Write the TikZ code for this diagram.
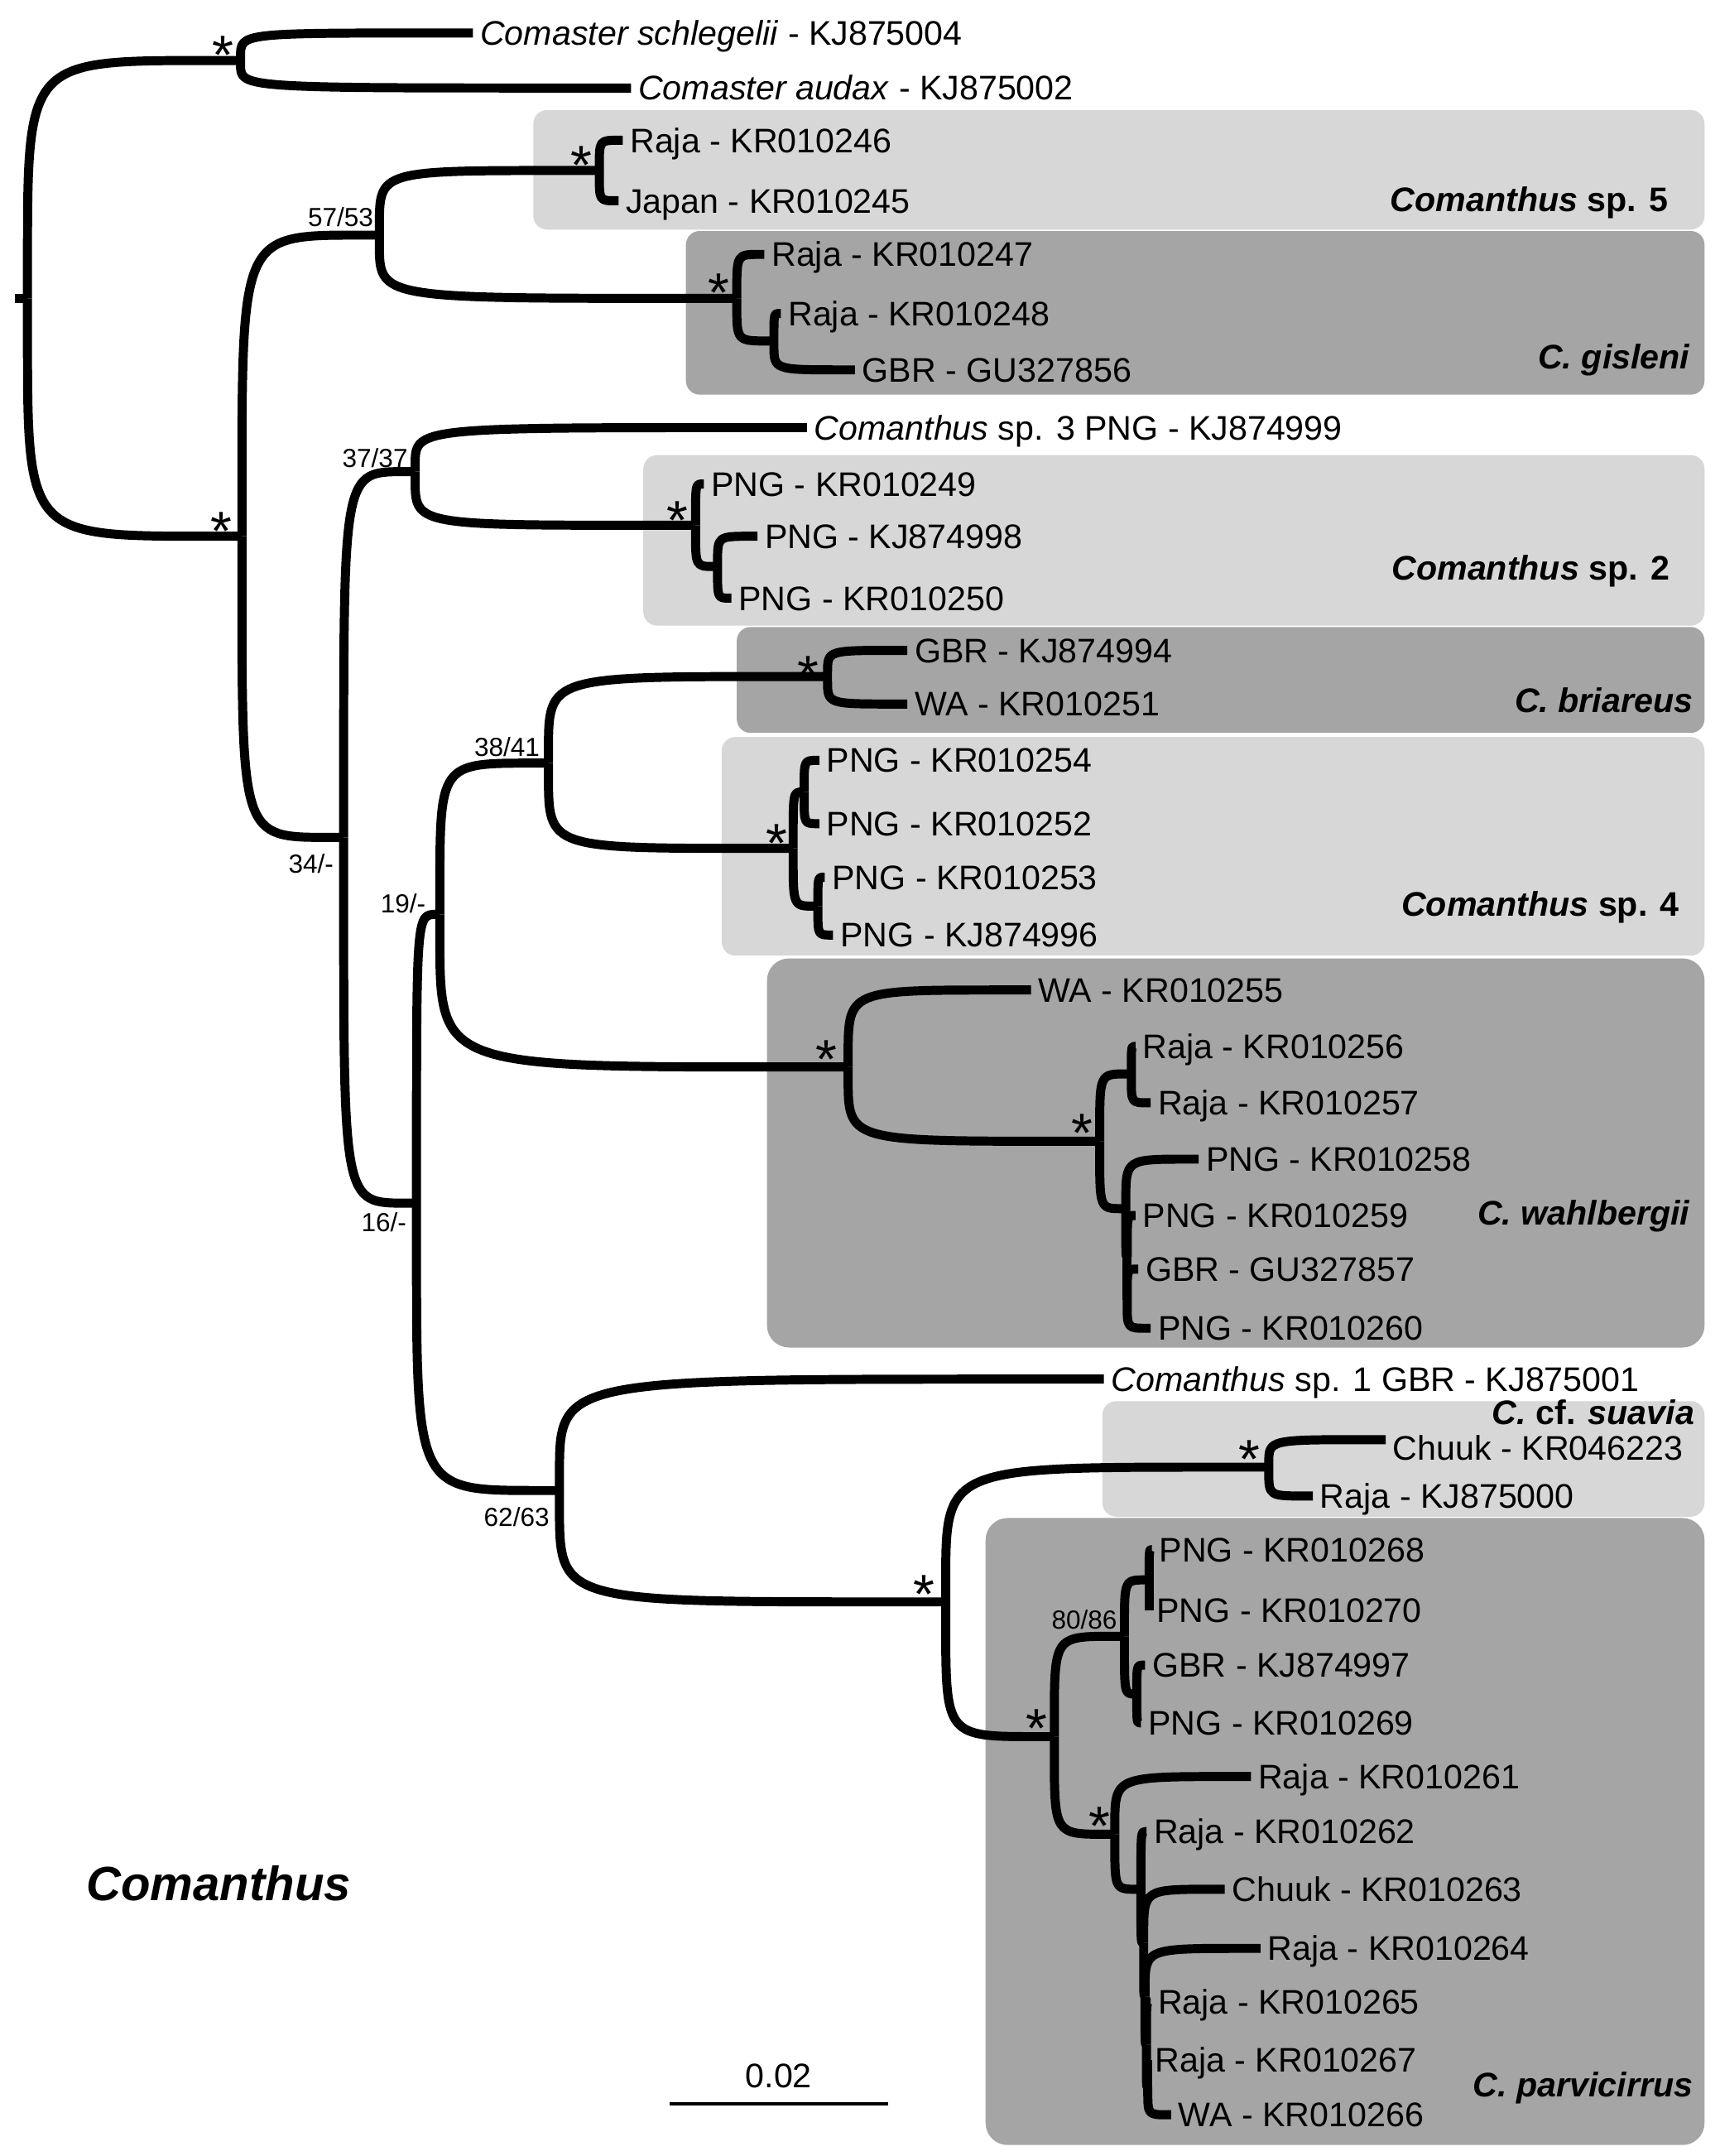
\documentclass[tikz,border=0pt]{standalone}
\usepackage{fontspec}
\setmainfont{Liberation Sans}
\usetikzlibrary{calc}
\definecolor{cladelight}{HTML}{D7D7D7}
\definecolor{cladedark}{HTML}{A6A5A6}
\newcommand{\branch}[2]{%
  \draw[branch] (#1) -- ($(#1)!.15!(#1|-#2)$)
    .. controls (#1|-#2) .. ($(#2)!.15!(#1|-#2)$) -- (#2);}
\begin{document}
\begin{tikzpicture}[x=0.5pt, y=-0.5pt,
  branch/.style={line width=3.3pt, line join=round},
  taxon/.style={anchor=base west, inner sep=0pt, xshift=2.5pt, yshift=-4.4pt,
                font=\fontsize{12.4}{14}\selectfont},
  clade/.style={anchor=base east, inner sep=0pt,
                font=\fontsize{12.4}{14}\selectfont\bfseries},
  support/.style={anchor=east, inner sep=0pt, font=\fontsize{9.5}{11}\selectfont},
  star/.style={anchor=base, inner sep=0pt, font=\fontsize{20}{20}\selectfont},
  lightbox/.style={fill=cladelight, rounded corners=5pt},
  darkbox/.style={fill=cladedark, rounded corners=5pt}
]
  \useasboundingbox (0,0) rectangle (1251,1568);

  % Clade boxes.
  \fill[lightbox] (388,80) rectangle (1240,167);
  \fill[darkbox] (499,168) rectangle (1240,287);
  \fill[lightbox] (468,331) rectangle (1240,455);
  \fill[darkbox] (536,456) rectangle (1240,533);
  \fill[lightbox] (525,536) rectangle (1240,695);
  \fill[darkbox, rounded corners=8pt] (558,697) rectangle (1240,980);
  \fill[lightbox] (802,1019) rectangle (1240,1103);
  \fill[darkbox, rounded corners=8pt] (717,1104) rectangle (1240,1560);

  % Internal nodes.
  \coordinate (stub) at (11,217);
  \coordinate (root) at (20,217);
  \coordinate (comaster) at (175,44);
  \coordinate (comanthus) at (176,390);
  \coordinate (n5753) at (276,171);
  \coordinate (sp5) at (436,124);
  \coordinate (gis) at (536,217);
  \coordinate (gis2) at (563,248);
  \coordinate (n34) at (250,609);
  \coordinate (n37) at (302,343);
  \coordinate (sp2) at (506,382);
  \coordinate (sp2b) at (522,412);
  \coordinate (n16) at (303,875);
  \coordinate (n19) at (320,665);
  \coordinate (n3841) at (399,555);
  \coordinate (bri) at (602,492);
  \coordinate (sp4) at (577,617);
  \coordinate (sp4a) at (585,576);
  \coordinate (sp4b) at (595,659);
  \coordinate (wah) at (617,776);
  \coordinate (wah2) at (800,830);
  \coordinate (wah3) at (823,781);
  \coordinate (wah4) at (819,879);
  \coordinate (wah5) at (820,914);
  \coordinate (wah6) at (820,945);
  \coordinate (n6263) at (407,1084);
  \coordinate (cpar) at (688,1165);
  \coordinate (sua) at (923,1067);
  \coordinate (par) at (767,1263);
  \coordinate (n8086) at (818,1190);
  \coordinate (par4a) at (836,1149);
  \coordinate (par4b) at (827,1232);
  \coordinate (par3) at (811,1334);
  \coordinate (par5) at (830,1374);
  \coordinate (par6) at (832,1413);
  \coordinate (par7) at (833,1452);
  \coordinate (par8) at (834,1487);
  \coordinate (par9) at (835,1518);

  % Tips.
  \coordinate (kj875004) at (344,24);
  \coordinate (kj875002) at (459,64);
  \coordinate (kr010246) at (453,102);
  \coordinate (kr010245) at (450,146);
  \coordinate (kr010247) at (556,185);
  \coordinate (kr010248) at (568,228);
  \coordinate (gu327856) at (622,269);
  \coordinate (kj874999) at (587,311);
  \coordinate (kr010249) at (512,352);
  \coordinate (kj874998) at (551,390);
  \coordinate (kr010250) at (532,435);
  \coordinate (kj874994) at (660,473);
  \coordinate (kr010251) at (660,512);
  \coordinate (kr010254) at (596,553);
  \coordinate (kr010252) at (596,599);
  \coordinate (kr010253) at (600,638);
  \coordinate (kj874996) at (606,680);
  \coordinate (kr010255) at (750,720);
  \coordinate (kr010256) at (826,761);
  \coordinate (kr010257) at (837,802);
  \coordinate (kr010258) at (872,843);
  \coordinate (kr010259) at (826,884);
  \coordinate (gu327857) at (828,923);
  \coordinate (kr010260) at (837,966);
  \coordinate (kj875001) at (803,1003);
  \coordinate (kr046223) at (1008,1047);
  \coordinate (kj875000) at (955,1088);
  \coordinate (kr010268) at (838,1127);
  \coordinate (kr010270) at (836,1171);
  \coordinate (kj874997) at (833,1211);
  \coordinate (kr010269) at (830,1253);
  \coordinate (kr010261) at (910,1292);
  \coordinate (kr010262) at (834,1332);
  \coordinate (kr010263) at (891,1374);
  \coordinate (kr010264) at (917,1417);
  \coordinate (kr010265) at (837,1456);
  \coordinate (kr010267) at (835,1498);
  \coordinate (kr010266) at (852,1538);

  % Branches.
  \draw[branch] (stub) -- (root);
  \branch{root}{comaster} \branch{root}{comanthus}
  \branch{comaster}{kj875004} \branch{comaster}{kj875002}
  \branch{comanthus}{n5753} \branch{comanthus}{n34}
  \branch{n5753}{sp5} \branch{n5753}{gis}
  \branch{sp5}{kr010246} \branch{sp5}{kr010245}
  \branch{gis}{kr010247} \branch{gis}{gis2}
  \branch{gis2}{kr010248} \branch{gis2}{gu327856}
  \branch{n34}{n37} \branch{n34}{n16}
  \branch{n37}{kj874999} \branch{n37}{sp2}
  \branch{sp2}{kr010249} \branch{sp2}{sp2b}
  \branch{sp2b}{kj874998} \branch{sp2b}{kr010250}
  \branch{n16}{n19} \branch{n16}{n6263}
  \branch{n19}{n3841} \branch{n19}{wah}
  \branch{n3841}{bri} \branch{n3841}{sp4}
  \branch{bri}{kj874994} \branch{bri}{kr010251}
  \branch{sp4}{sp4a} \branch{sp4}{sp4b}
  \branch{sp4a}{kr010254} \branch{sp4a}{kr010252}
  \branch{sp4b}{kr010253} \branch{sp4b}{kj874996}
  \branch{wah}{kr010255} \branch{wah}{wah2}
  \branch{wah2}{wah3} \branch{wah2}{wah4}
  \branch{wah3}{kr010256} \branch{wah3}{kr010257}
  \branch{wah4}{kr010258} \branch{wah4}{wah5}
  \branch{wah5}{kr010259} \branch{wah5}{wah6}
  \branch{wah6}{gu327857} \branch{wah6}{kr010260}
  \branch{n6263}{kj875001} \branch{n6263}{cpar}
  \branch{cpar}{sua} \branch{cpar}{par}
  \branch{sua}{kr046223} \branch{sua}{kj875000}
  \branch{par}{n8086} \branch{par}{par3}
  \branch{n8086}{par4a} \branch{n8086}{par4b}
  \branch{par4a}{kr010268} \branch{par4a}{kr010270}
  \branch{par4b}{kj874997} \branch{par4b}{kr010269}
  \branch{par3}{kr010261} \branch{par3}{par5}
  \branch{par5}{kr010262} \branch{par5}{par6}
  \branch{par6}{kr010263} \branch{par6}{par7}
  \branch{par7}{kr010264} \branch{par7}{par8}
  \branch{par8}{kr010265} \branch{par8}{par9}
  \branch{par9}{kr010267} \branch{par9}{kr010266}

  % Tip labels.
  \node[taxon] (lb-kj875004) at (kj875004) {\textit{Comaster schlegelii} - KJ875004};
  \node[taxon] (lb-kj875002) at (kj875002) {\textit{Comaster audax} - KJ875002};
  \node[taxon] (lb-kr010246) at (kr010246) {Raja - KR010246};
  \node[taxon] (lb-kr010245) at (kr010245) {Japan - KR010245};
  \node[taxon] (lb-kr010247) at (kr010247) {Raja - KR010247};
  \node[taxon] (lb-kr010248) at (kr010248) {Raja - KR010248};
  \node[taxon] (lb-gu327856) at (gu327856) {GBR - GU327856};
  \node[taxon] (lb-kj874999) at (kj874999) {\textit{Comanthus} sp. 3 PNG - KJ874999};
  \node[taxon] (lb-kr010249) at (kr010249) {PNG - KR010249};
  \node[taxon] (lb-kj874998) at (kj874998) {PNG - KJ874998};
  \node[taxon] (lb-kr010250) at (kr010250) {PNG - KR010250};
  \node[taxon] (lb-kj874994) at (kj874994) {GBR - KJ874994};
  \node[taxon] (lb-kr010251) at (kr010251) {WA - KR010251};
  \node[taxon] (lb-kr010254) at (kr010254) {PNG - KR010254};
  \node[taxon] (lb-kr010252) at (kr010252) {PNG - KR010252};
  \node[taxon] (lb-kr010253) at (kr010253) {PNG - KR010253};
  \node[taxon] (lb-kj874996) at (kj874996) {PNG - KJ874996};
  \node[taxon] (lb-kr010255) at (kr010255) {WA - KR010255};
  \node[taxon] (lb-kr010256) at (kr010256) {Raja - KR010256};
  \node[taxon] (lb-kr010257) at (kr010257) {Raja - KR010257};
  \node[taxon] (lb-kr010258) at (kr010258) {PNG - KR010258};
  \node[taxon] (lb-kr010259) at (kr010259) {PNG - KR010259};
  \node[taxon] (lb-gu327857) at (gu327857) {GBR - GU327857};
  \node[taxon] (lb-kr010260) at (kr010260) {PNG - KR010260};
  \node[taxon] (lb-kj875001) at (kj875001) {\textit{Comanthus} sp. 1 GBR - KJ875001};
  \node[taxon, yshift=-3pt] (lb-kr046223) at (kr046223) {Chuuk - KR046223};
  \node[taxon] (lb-kj875000) at (kj875000) {Raja - KJ875000};
  \node[taxon] (lb-kr010268) at (kr010268) {PNG - KR010268};
  \node[taxon] (lb-kr010270) at (kr010270) {PNG - KR010270};
  \node[taxon] (lb-kj874997) at (kj874997) {GBR - KJ874997};
  \node[taxon] (lb-kr010269) at (kr010269) {PNG - KR010269};
  \node[taxon] (lb-kr010261) at (kr010261) {Raja - KR010261};
  \node[taxon] (lb-kr010262) at (kr010262) {Raja - KR010262};
  \node[taxon] (lb-kr010263) at (kr010263) {Chuuk - KR010263};
  \node[taxon] (lb-kr010264) at (kr010264) {Raja - KR010264};
  \node[taxon] (lb-kr010265) at (kr010265) {Raja - KR010265};
  \node[taxon] (lb-kr010267) at (kr010267) {Raja - KR010267};
  \node[taxon] (lb-kr010266) at (kr010266) {WA - KR010266};

  % Full support.
  \node[star] (st-comaster) at ($(comaster)+(-13,10)$) {*};
  \node[star] (st-comanthus) at ($(comanthus)+(-15,10)$) {*};
  \node[star] (st-sp5) at ($(sp5)+(-13,10)$) {*};
  \node[star] (st-gis) at ($(gis)+(-13,10)$) {*};
  \node[star] (st-sp2) at ($(sp2)+(-13,10)$) {*};
  \node[star] (st-bri) at ($(bri)+(-14,13)$) {*};
  \node[star] (st-sp4) at ($(sp4)+(-12,10)$) {*};
  \node[star] (st-wah) at ($(wah)+(-16,8)$) {*};
  \node[star] (st-wah2) at ($(wah2)+(-13,8)$) {*};
  \node[star] (st-sua) at ($(sua)+(-14,8)$) {*};
  \node[star] (st-cpar) at ($(cpar)+(-16,8)$) {*};
  \node[star] (st-par) at ($(par)+(-13,8)$) {*};
  \node[star] (st-par3) at ($(par3)+(-11,8)$) {*};

  % Bootstrap values.
  \node[support] (bs5753) at (272,158) {57/53};
  \node[support] (bs3737) at (297,333) {37/37};
  \node[support] (bs34) at (243,628) {34/-};
  \node[support] (bs19) at (310,657) {19/-};
  \node[support] (bs16) at (296,889) {16/-};
  \node[support] (bs3841) at (393,543) {38/41};
  \node[support] (bs6263) at (400,1103) {62/63};
  \node[support] (bs8086) at (813,1178) {80/86};

  % Clade names.
  \node[clade] (cl-sp5) at (1214,154) {\textit{Comanthus} sp. 5};
  \node[clade] (cl-gis) at (1230,268) {\textit{C. gisleni}};
  \node[clade] (cl-sp2) at (1215,422) {\textit{Comanthus} sp. 2};
  \node[clade] (cl-bri) at (1232,518) {\textit{C. briareus}};
  \node[clade] (cl-sp4) at (1222,666) {\textit{Comanthus} sp. 4};
  \node[clade] (cl-wah) at (1230,891) {\textit{C. wahlbergii}};
  \node[clade] (cl-sua) at (1233,1036) {\textit{C.} cf. \textit{suavia}};
  \node[clade] (cl-par) at (1232,1525) {\textit{C. parvicirrus}};
  \node[font=\fontsize{17.5}{20}\selectfont\bfseries\itshape] (genus) at (159,1370) {Comanthus};

  % Scale bar.
  \coordinate (sb-a) at (487,1530);
  \coordinate (sb-b) at (646,1530);
  \draw[line width=1.4pt] (sb-a) -- node[above=5pt, inner sep=0pt,
    font=\fontsize{12.4}{14}\selectfont] (sb-lbl) {0.02} (sb-b);
\end{tikzpicture}
\end{document}
